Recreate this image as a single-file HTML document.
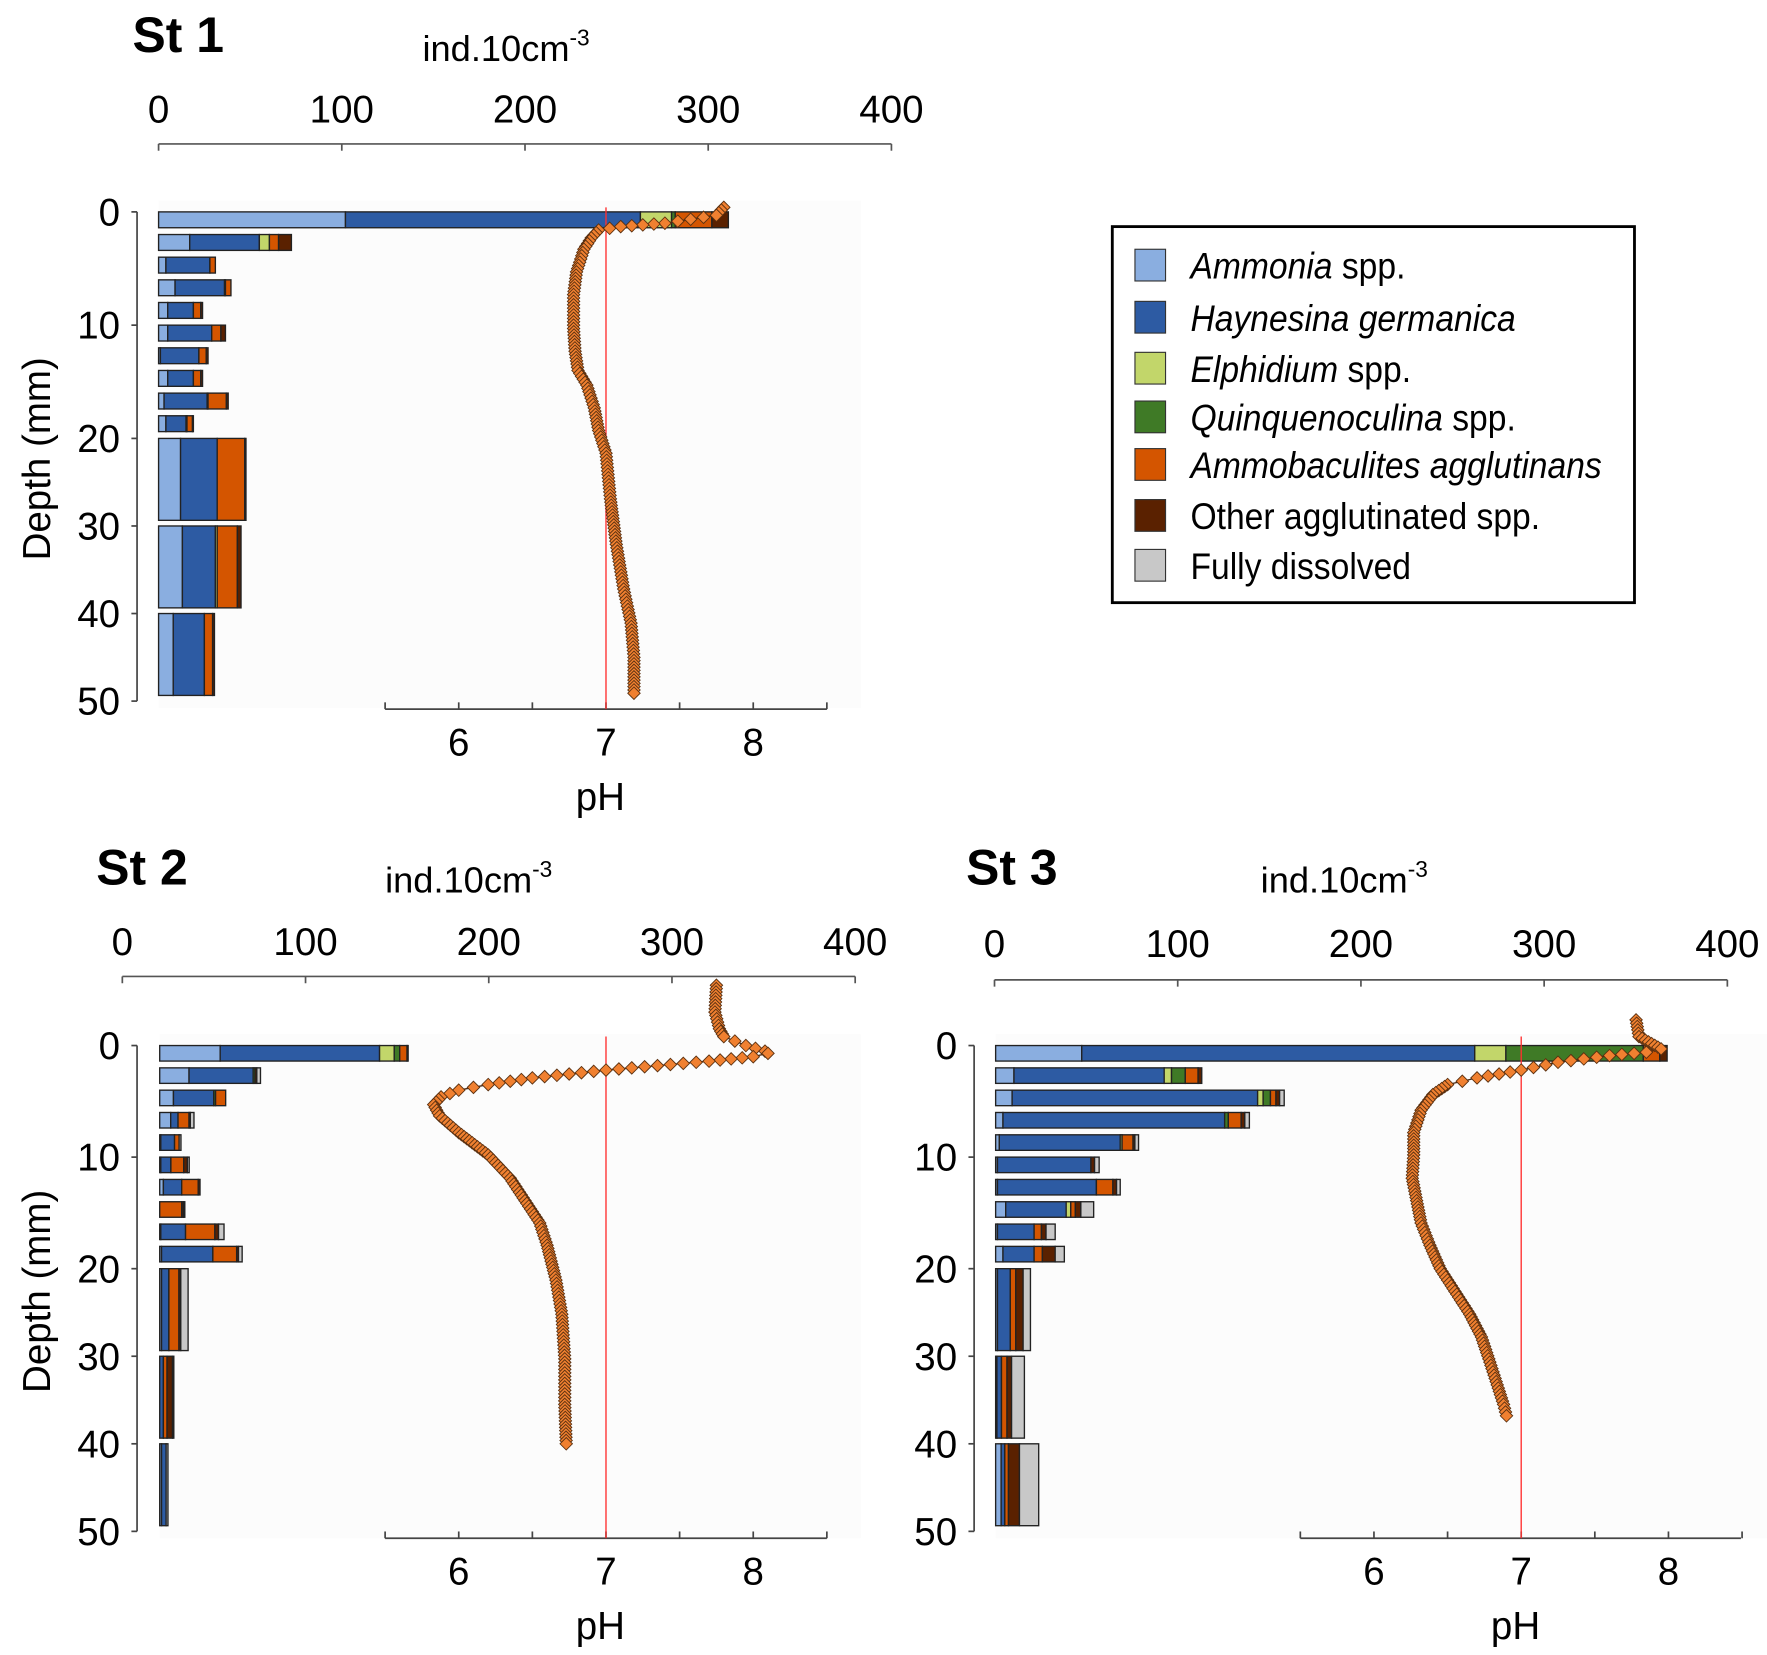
<!DOCTYPE html>
<html><head><meta charset="utf-8"><style>
html,body{margin:0;padding:0;background:#fff}
svg{display:block}
text{font-family:"Liberation Sans",Arial,sans-serif;fill:#000}
</style></head><body>
<svg id="chart" xmlns="http://www.w3.org/2000/svg" width="1767" height="1655" viewBox="0 0 1560 1461">
</svg>
<script>
// ---- data ----
const species = ["Ammonia spp.","Haynesina germanica","Elphidium spp.","Quinquenoculina spp.","Ammobaculites agglutinans","Other agglutinated spp.","Fully dissolved"];
const colors = ["#8aaee0","#2d5ba3","#c2d66a","#3f7a26","#d45500","#5a2100","#c8c8c8"];
const countTicks = [0,100,200,300,400];
const depthTicks = [0,10,20,30,40,50];
const phTicks = [6,7,8];
const rowStart = [0,2,4,6,8,10,12,14,16,18,20,30,40];
const rowEnd   = [2,4,6,8,10,12,14,16,18,20,30,40,50];
// counts per row: [Amm, Hay, Elph, Quinq, Ammob, Other, Dissolved]
const st1Counts = [
 [102,161,17,2,20,9,0],[17,38,5.5,0,5,7,0],[4,24,0,0,3,0,0],[9,27,0,0.5,3,0,0],
 [5,14,0,0,4,1,0],[5,24,0,0,5,2.5,0],[1,21,0,0,4,1,0],[5,14,0,0,4,1,0],
 [3,23.5,0,0.5,10,1,0],[4,11,0,0.5,3,0.5,0],[12,20,0,0,15,0.7,0],[13,18,1,0,11,2,0],[8,17,0,0,4.5,1,0]];
const st2Counts = [
 [33,87,8,3,4,0.6,0],[16,35,0,1,0,1,2],[7.5,22,0,1,5.5,0,0],[6,4,0,0,6,0.7,2],
 [0.6,7.5,0,0,2.5,0,1],[0.6,5.5,0,0,7,2,1],[2,10,0,0,9,1,0],[0,0,0,0,12,1,0.7],
 [0.6,13.5,0,0,16,2,3],[1,28,0,0,13,1,2],[1,4,0,0,5.5,1,4],[0,2,0,0,2,3,0.7],[1,2.5,0,0,0,0,1]];
const st3Counts = [
 [47,214.5,17,75,9,4,0],[10,82,4,7.5,7,2,0],[9,134,3,4,3,2,2.5],[4,121,0,2,7,2,2.5],
 [2,66,1,0,6,1,2],[1,51,0,0,0,2,2.5],[1,54,0,0,9,2,2],[5.5,33,2.5,0,2.5,3,7],
 [1,20,0,0,4,2.5,5],[4,17,0,0,4.5,7,5],[1,7,0,0,3,4,4],[0.7,2.5,0,0,3,2.5,7],[3,2,0,0,2,6,10.5]];
// pH profiles
const st1Depth = [-0.4,0.3,1.0,1.3,1.6,2.3,3.3,5.3,7.3,10.3,12.3,14,15.3,17.3,19.3,21.7,26.9,32.1,37.2,41.1,45,49.1];
const st1PH    = [7.8,7.75,7.4,7.1,6.95,6.9,6.85,6.8,6.78,6.78,6.79,6.81,6.87,6.92,6.95,7.0,7.03,7.07,7.12,7.17,7.19,7.19];
const st2Depth = [-5.4,-3,-1.5,-0.8,0,0.5,0.7,1.0,1.4,1.8,2.2,2.9,3.5,4.0,4.6,5.3,6.3,7.8,9.8,11.9,13.9,15.9,17.9,21.3,25.2,30.3,35.5,40];
const st2PH    = [7.75,7.74,7.77,7.8,7.95,8.08,8.1,8.0,7.7,7.35,7.0,6.5,6.2,6.0,5.88,5.83,5.87,6.0,6.2,6.35,6.45,6.55,6.6,6.66,6.7,6.72,6.72,6.73];
const st3Depth = [-2.3,-0.8,0.3,0.6,0.9,1.5,2.2,2.9,3.5,4.4,5.8,7.8,9.8,11.9,13.9,15.9,17.9,20,22.6,25.2,27.8,30.3,32.9,35.5,36.8];
const st3PH    = [7.78,7.8,7.95,7.85,7.6,7.25,7.0,6.7,6.5,6.4,6.32,6.27,6.27,6.26,6.29,6.32,6.38,6.45,6.55,6.65,6.73,6.78,6.83,6.88,6.9];

const NS="http://www.w3.org/2000/svg";
const svg=document.getElementById('chart');
function mk(tag,attrs,parent,txt){const e=document.createElementNS(NS,tag);for(const k in attrs)e.setAttribute(k,attrs[k]);if(txt!==undefined)e.textContent=txt;(parent||svg).appendChild(e);return e;}

const panels=[
 {name:'st1',title:'St 1',tx:117,ty:46,unitX:373,unitY:54,axY:127,axX0:140,barX0:140,labY:108,
  y0:187,a:10,b:7.73,depthAxX:121,depthLabX:106,titleY:405,phAxY:626,phX7:535,phX0:340,phX1:730,redTop:183,counts:st1Counts,pd:st1Depth,pp:st1PH,showYT:true},
 {name:'st2',title:'St 2',tx:85,ty:781,unitX:340,unitY:788,axY:862,axX0:108,barX0:141,labY:843,
  y0:923,a:9.85,b:7.73,depthAxX:121,depthLabX:106,titleY:1140,phAxY:1358,phX7:535,phX0:340,phX1:730,redTop:915,counts:st2Counts,pd:st2Depth,pp:st2PH,showYT:true},
 {name:'st3',title:'St 3',tx:853,ty:781,unitX:1113,unitY:788,axY:865,axX0:878,barX0:879,labY:845,
  y0:923,a:9.85,b:7.73,depthAxX:860,depthLabX:845,titleY:1140,phAxY:1358,phX7:1343,phX0:1148,phX1:1537,redTop:915,counts:st3Counts,pd:st3Depth,pp:st3PH,showYT:false}
];
const CS=1.6175;

panels.forEach(p=>{
  const g=mk('g',{});
  
  
  const dy=d=> d<=20 ? p.y0+d*p.a : p.y0+20*p.a+(d-20)*p.b;
  const cx=v=>p.axX0+v*CS;
  const px=v=>p.phX7+(v-7)*130;
  mk('rect',{x:p.barX0,y:p.y0-10,width:p.phX1-p.barX0+30,height:dy(50)-p.y0+16,fill:'#fcfcfc'},g);
  const t=mk('text',{x:p.tx,y:p.ty,'font-size':44,'font-weight':'bold'},g,p.title);
  
  const u=mk('text',{x:p.unitX,y:p.unitY,'font-size':32},g,'ind.10cm');
  mk('tspan',{'font-size':20,dy:-14},u,'-3');
  
  // top count axis
  mk('line',{x1:cx(0),x2:cx(400),y1:p.axY,y2:p.axY,stroke:'#555','stroke-width':1.5},g);
  countTicks.forEach(v=>{
    mk('line',{x1:cx(v),x2:cx(v),y1:p.axY,y2:p.axY+6,stroke:'#555','stroke-width':1.5},g);
    const l=mk('text',{x:cx(v),y:p.labY,'font-size':34,'text-anchor':'middle'},g,String(v));
    
  });
  // depth axis
  mk('line',{x1:p.depthAxX,x2:p.depthAxX,y1:dy(0),y2:dy(50),stroke:'#444','stroke-width':1.5},g);
  depthTicks.forEach(v=>{
    mk('line',{x1:p.depthAxX-5,x2:p.depthAxX,y1:dy(v),y2:dy(v),stroke:'#444','stroke-width':1.5},g);
    const l=mk('text',{x:p.depthLabX,y:dy(v)+12,'font-size':34,'text-anchor':'end'},g,String(v));
    
  });
  if(p.showYT){
    const yt=mk('text',{x:0,y:0,'font-size':34,'text-anchor':'middle',transform:`translate(44,${p.titleY}) rotate(-90)`},g,'Depth (mm)');
    
  }
  // bars
  p.counts.forEach((row,i)=>{
    const top=dy(rowStart[i]), bot=dy(rowEnd[i])-(i<10?6:5);
    let x=p.barX0;
    row.forEach((v,k)=>{
      if(v<=0)return;
      const w=v*CS;
      const r=mk('rect',{x:x,y:top,width:w,height:bot-top,fill:colors[k],stroke:'#222','stroke-width':1.2},g);
      
      x+=w;
    });
  });
  // pH axis
  mk('line',{x1:p.phX0,x2:p.phX1,y1:p.phAxY,y2:p.phAxY,stroke:'#444','stroke-width':1.5},g);
  [5.5,6,6.5,7,7.5,8,8.5].forEach(v=>mk('line',{x1:px(v),x2:px(v),y1:p.phAxY-6,y2:p.phAxY,stroke:'#444','stroke-width':1.5},g));
  phTicks.forEach(v=>{
    const l=mk('text',{x:px(v),y:p.phAxY+41,'font-size':34,'text-anchor':'middle'},g,String(v));
    
  });
  const pt=mk('text',{x:px(7)-5,y:p.phAxY+89,'font-size':34,'text-anchor':'middle'},g,'pH');
  
  const rl=mk('line',{x1:px(7),x2:px(7),y1:p.redTop,y2:p.phAxY,stroke:'#ff3030','stroke-width':1.2},g);
  
  // pH profile
  const pts=p.pd.map((d,i)=>[px(p.pp[i]),dy(d)]);
  const pl=mk('polyline',{points:pts.map(q=>q.join(',')).join(' '),fill:'none',stroke:'#4a2a14','stroke-width':1.2},g);
  
  const mg=mk('g',{},g);
  
  for(let i=0;i<pts.length-1;i++){
    const [x1,y1]=pts[i],[x2,y2]=pts[i+1];
    const L=Math.hypot(x2-x1,y2-y1);
    const horiz=Math.abs(x2-x1)>2*Math.abs(y2-y1);
    const sp=horiz?11:3;
    const n=Math.max(1,Math.round(L/sp));
    for(let j=0;j<n;j++){
      const f=j/n, x=x1+(x2-x1)*f, y=y1+(y2-y1)*f;
      mk('path',{d:`M${x} ${y-5.5}L${x+5.5} ${y}L${x} ${y+5.5}L${x-5.5} ${y}Z`,fill:'#f08030',stroke:'#5a3010','stroke-width':0.8},mg);
    }
  }
  const [lx,ly]=pts[pts.length-1];
  mk('path',{d:`M${lx} ${ly-5.5}L${lx+5.5} ${ly}L${lx} ${ly+5.5}L${lx-5.5} ${ly}Z`,fill:'#f08030',stroke:'#5a3010','stroke-width':0.8},mg);
});

// legend
const lg=mk('g',{});


mk('rect',{x:982,y:200,width:461,height:332,fill:'#fff',stroke:'#000','stroke-width':2.5},lg);
const legY=[234,280,325,368,410,455,499];
const italicPart=["Ammonia","Haynesina germanica","Elphidium","Quinquenoculina","Ammobaculites agglutinans","",""];
const plainPart=[" spp.",""," spp."," spp.","","Other agglutinated spp.","Fully dissolved"];
species.forEach((s,i)=>{
  const e=mk('g',{},lg);
  
  
  mk('rect',{x:1002,y:legY[i]-14,width:27,height:28,fill:colors[i],stroke:'#333','stroke-width':1},e);
  const t=mk('text',{x:0,y:legY[i]+12,'font-size':33,transform:'translate(1051,0) scale(0.9,1)'},e);
  if(italicPart[i])mk('tspan',{'font-style':'italic'},t,italicPart[i]);
  if(plainPart[i])mk('tspan',{},t,plainPart[i]);
});
</script>
</body></html>
